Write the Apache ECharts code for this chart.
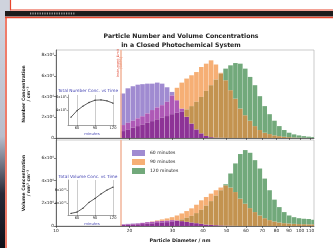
<!DOCTYPE html>
<html>
<head>
<meta charset="utf-8">
<script src="https://cdn.jsdelivr.net/npm/echarts@6/dist/echarts.min.js"></script>
<style>
html, body { margin: 0; padding: 0; background: #fff; }
#main { width: 333px; height: 248px; }
</style>
</head>
<body>
<div id="main"></div>
<script>
// bin centres (nm)
var diameters = [18.8, 19.7, 20.7, 21.6, 22.6, 23.7, 24.8, 26.0, 27.2, 28.5,
    29.9, 31.3, 32.7, 34.3, 35.9, 37.6, 39.4, 41.2, 43.2, 45.2,
    47.3, 49.5, 51.9, 54.3, 56.9, 59.6, 62.4, 65.3, 68.4, 71.6,
    75.0, 78.5, 82.2, 86.1, 90.2, 94.4, 98.9, 103.5, 108.4, 113.5];

// number concentration (x10^4)
var number60 = [4.3, 4.8, 5.0, 5.15, 5.2, 5.25, 5.25, 5.35, 5.25, 4.9,
    4.45, 3.65, 2.85, 2.05, 1.4, 0.83, 0.45, 0.2, 0.08, 0.03,
    0.02, 0.01, 0, 0, 0, 0, 0, 0, 0, 0,
    0, 0, 0, 0, 0, 0, 0, 0, 0, 0];
var number90 = [1.25, 1.47, 1.67, 1.9, 2.1, 2.37, 2.7, 2.95, 3.17, 3.5,
    4.1, 4.85, 5.35, 5.74, 6.06, 6.37, 6.86, 7.18, 7.5, 7.1,
    6.3, 5.58, 4.62, 3.8, 2.85, 2.2, 1.67, 1.15, 0.77, 0.51,
    0.38, 0.26, 0.18, 0.12, 0.08, 0.05, 0.03, 0.02, 0.01, 0.01];
var number120 = [0.67, 0.83, 1.0, 1.15, 1.31, 1.47, 1.63, 1.8, 1.96, 2.12,
    2.3, 2.44, 2.56, 2.76, 3.08, 3.5, 3.97, 4.55, 5.1, 5.64,
    6.22, 6.7, 7.02, 7.24, 7.18, 6.7, 5.9, 5.1, 4.04, 3.08,
    2.3, 1.67, 1.15, 0.77, 0.51, 0.35, 0.25, 0.18, 0.13, 0.1];

// volume concentration (x10^8)
var volume60 = [0.16, 0.19, 0.22, 0.25, 0.28, 0.34, 0.37, 0.43, 0.46, 0.49,
    0.52, 0.49, 0.43, 0.37, 0.31, 0.25, 0.19, 0.13, 0.1, 0.07,
    0.05, 0.03, 0.02, 0.01, 0, 0, 0, 0, 0, 0,
    0, 0, 0, 0, 0, 0, 0, 0, 0, 0];
var volume90 = [0.13, 0.16, 0.19, 0.22, 0.28, 0.34, 0.4, 0.49, 0.58, 0.67,
    0.78, 0.93, 1.11, 1.32, 1.56, 1.88, 2.27, 2.56, 2.86, 3.16,
    3.4, 3.6, 3.4, 3.0, 2.42, 1.97, 1.58, 1.23, 0.93, 0.69,
    0.52, 0.4, 0.31, 0.25, 0.22, 0.19, 0.17, 0.16, 0.15, 0.15];
var volume120 = [0.1, 0.11, 0.13, 0.15, 0.17, 0.2, 0.23, 0.27, 0.31, 0.34,
    0.37, 0.46, 0.58, 0.73, 0.9, 1.14, 1.44, 1.8, 2.2, 2.68,
    3.16, 3.69, 4.64, 5.53, 6.36, 6.71, 6.47, 5.82, 5.08, 4.19,
    3.16, 2.33, 1.67, 1.23, 0.93, 0.78, 0.69, 0.64, 0.62, 0.55];

var diameterTicks = [10, 20, 30, 40, 50, 60, 70, 80, 90, 100, 110];
var numberTicks = [0, 2, 4, 6, 8];
var volumeTicks = [0, 2, 4, 6];
var seriesNames = ['60 minutes', '90 minutes', '120 minutes'];

// insets: total concentration vs time
var insetTimes = [50, 60, 70, 80, 90, 100, 110, 120];
var insetTimeTicks = [60, 90, 120];
var numberTotal = [2.9, 3.9, 4.6, 5.15, 5.5, 5.55, 5.4, 5.05];
var volumeTotal = [2.4, 2.6, 3.2, 4.1, 4.7, 5.4, 6.0, 6.45];
var insetTicks = [4, 6];

var chart = echarts.init(document.getElementById('main'));

var FONT = 'DejaVu Sans';
var baseColors = ['#a08bd1', '#f6af75', '#72a97b'];
// colour of a stretch of bin covered by a given set of series
var mixColors = {
    '0': '#a08bd1', '1': '#f6af75', '2': '#72a97b',
    '01': '#ae59b6', '02': '#8b5aa0', '12': '#c39350', '012': '#8d3396'
};

var numberGroup = [number60, number90, number120];
var volumeGroup = [volume60, volume90, volume120];

function binEdge(i, side) {
    var d = diameters[i], n;
    if (side < 0) n = i > 0 ? diameters[i - 1] : d * d / diameters[i + 1];
    else n = i < diameters.length - 1 ? diameters[i + 1] : d * d / diameters[i - 1];
    return Math.sqrt(d * n);
}

// each series paints the piece of its bin between the next lower series and itself
function histRender(group, k) {
    return function (params, api) {
        var i = params.dataIndex;
        var v = group[k][i];
        var lower = 0, cover = '';
        for (var j = 0; j < group.length; j++) {
            var w = group[j][i];
            if (w < v || (w === v && j < k)) lower = Math.max(lower, w);
            else cover += j;
        }
        if (v <= lower) return null;
        var p0 = api.coord([binEdge(i, -1), lower]);
        var p1 = api.coord([binEdge(i, 1), v]);
        return {
            type: 'rect',
            shape: { x: p0[0] + 0.15, y: p1[1], width: p1[0] - p0[0] - 0.3, height: p0[1] - p1[1] },
            style: { fill: mixColors[cover] }
        };
    };
}

function histSeries(group, k, panel) {
    return {
        type: 'custom',
        name: seriesNames[k],
        xAxisIndex: panel * 2,
        yAxisIndex: panel,
        itemStyle: { color: baseColors[k] },
        renderItem: histRender(group, k),
        data: diameters.map(function (d, i) { return [d, group[k][i]]; }),
        encode: { x: 0, y: 1 },
        clip: true,
        silent: true
    };
}

function sciFmt(exp) {
    return function (v) { return v === 0 ? '0' : v + 'x10' + exp; };
}

var tickLine = { color: '#333', width: 0.6 };
var logTicks = diameterTicks.map(function (d) { return Math.log10(d); });

function mainY(grid, max, ticks, exp) {
    return {
        type: 'value', gridIndex: grid, min: 0, max: max,
        splitLine: { show: false },
        axisLine: { show: true, lineStyle: { color: '#333', width: 0.7 } },
        axisTick: { show: true, length: 2, customValues: ticks, lineStyle: tickLine },
        axisLabel: { customValues: ticks, fontSize: 4.3, margin: 2, color: '#222', fontFamily: FONT, formatter: sciFmt(exp) }
    };
}

function logX(grid) {
    return { type: 'log', logBase: 10, gridIndex: grid, min: 10, max: 114, show: false };
}

function labelX(grid, withLabels) {
    return {
        type: 'value', gridIndex: grid, min: 1, max: Math.log10(114), position: 'bottom',
        splitLine: { show: false },
        axisLine: { show: true, lineStyle: { color: '#333', width: 0.7 } },
        axisTick: { show: true, length: 2, customValues: logTicks, lineStyle: tickLine },
        axisLabel: {
            show: withLabels, customValues: logTicks, fontSize: 4.3, margin: 3, color: '#222', fontFamily: FONT,
            formatter: function (v) { return Math.round(Math.pow(10, v)); }
        }
    };
}

function insetX(grid) {
    return {
        type: 'value', gridIndex: grid, min: 45, max: 125,
        axisLine: { show: true, lineStyle: { color: '#444', width: 0.5 } },
        axisTick: { show: true, length: 1.5, customValues: insetTimeTicks, lineStyle: { color: '#444', width: 0.5 } },
        splitLine: { show: true, lineStyle: { color: '#999', width: 0.5 } },
        axisLabel: { customValues: insetTimeTicks, fontSize: 3.6, margin: 1.5, color: '#222', fontFamily: FONT },
        name: 'minutes', nameLocation: 'middle', nameGap: 7,
        nameTextStyle: { fontSize: 3.8, color: '#4646b4', fontFamily: FONT }
    };
}

function insetY(grid, min, max, exp) {
    return {
        type: 'value', gridIndex: grid, min: min, max: max,
        splitLine: { show: false },
        axisLine: { show: true, lineStyle: { color: '#444', width: 0.5 } },
        axisTick: { show: true, length: 1.5, customValues: insetTicks, lineStyle: { color: '#444', width: 0.5 } },
        axisLabel: { customValues: insetTicks, fontSize: 3.6, margin: 1.5, color: '#222', fontFamily: FONT, formatter: sciFmt(exp) }
    };
}

function insetLine(times, vals, grid) {
    return {
        type: 'line', xAxisIndex: grid + 2, yAxisIndex: grid,
        data: times.map(function (t, i) { return [t, vals[i]]; }),
        symbol: 'circle', symbolSize: 1.3,
        itemStyle: { color: '#333' },
        lineStyle: { color: '#333', width: 0.8 },
        silent: true
    };
}

function txt(x, y, text, font, fill, rot) {
    return {
        type: 'text', x: x, y: y, rotation: rot || 0, silent: true,
        style: { text: text, font: font, fill: fill, align: 'center', verticalAlign: 'middle',
                 textAlign: 'center', textVerticalAlign: 'middle' }
    };
}

var series = [];
for (var k = 0; k < 3; k++) series.push(histSeries(numberGroup, k, 0));
for (k = 0; k < 3; k++) series.push(histSeries(volumeGroup, k, 1));
// detection limit marker through both panels
series[0].markLine = { silent: true, symbol: 'none', label: { show: false }, lineStyle: { color: '#f2b49a', width: 1.5, type: 'solid' }, data: [{ xAxis: 18.5 }] };
series[3].markLine = { silent: true, symbol: 'none', label: { show: false }, lineStyle: { color: '#f2b49a', width: 1.5, type: 'solid' }, data: [{ xAxis: 18.5 }] };
series.push(insetLine(insetTimes, numberTotal, 2));
series.push(insetLine(insetTimes, volumeTotal, 3));

var option = {
    animation: false,
    backgroundColor: '#fff',
    grid: [
        { left: 56, top: 50, width: 258, height: 88, show: true, borderColor: '#aaa', borderWidth: 0.6 },
        { left: 56, top: 140, width: 258, height: 86, show: true, borderColor: '#aaa', borderWidth: 0.6 },
        { left: 68, top: 95, width: 48, height: 30 },
        { left: 68, top: 180, width: 48, height: 35 }
    ],
    xAxis: [logX(0), labelX(0, false), logX(1), labelX(1, true), insetX(2), insetX(3)],
    yAxis: [mainY(0, 8.5, numberTicks, '⁴'), mainY(1, 7.6, volumeTicks, '⁸'),
            insetY(2, 1.7, 6.3, '⁵'), insetY(3, 2.15, 7.55, '¹⁰')],
    legend: {
        data: seriesNames, orient: 'vertical', left: 127, top: 145,
        icon: 'rect', itemWidth: 13, itemHeight: 6, itemGap: 3,
        textStyle: { fontSize: 4.5, color: '#222', fontFamily: FONT }
    },
    series: series,
    graphic: [
        // slide edges
        { type: 'rect', shape: { x: 0, y: 0, width: 5, height: 248 }, silent: true, z: -10,
          style: { fill: new echarts.graphic.LinearGradient(0, 0, 0, 1, [
              { offset: 0, color: '#d3d7e1' }, { offset: 0.55, color: '#b9bdcb' },
              { offset: 0.78, color: '#2a2a38' }, { offset: 1, color: '#101018' }]) } },
        { type: 'rect', shape: { x: 0, y: 0, width: 11, height: 11 }, silent: true, style: { fill: '#cfd3dd' } },
        { type: 'line', shape: { x1: 10.5, y1: 0, x2: 10.5, y2: 10 }, silent: true, style: { stroke: '#e8452c', lineWidth: 1.2 } },
        { type: 'line', shape: { x1: 10, y1: 10, x2: 333, y2: 10 }, silent: true, style: { stroke: '#e8452c', lineWidth: 1.2 } },
        { type: 'rect', shape: { x: 5, y: 11, width: 328, height: 5.5 }, silent: true, style: { fill: '#1c1c1c' } },
        { type: 'line', shape: { x1: 30, y1: 13.5, x2: 75, y2: 13.5 }, silent: true, style: { stroke: '#9a9a9a', lineWidth: 2, lineDash: [1.2, 1.2] } },
        { type: 'line', shape: { x1: 5, y1: 17.5, x2: 333, y2: 17.5 }, silent: true, style: { stroke: '#e8452c', lineWidth: 1.4 } },
        { type: 'line', shape: { x1: 6, y1: 17, x2: 6, y2: 248 }, silent: true, style: { stroke: '#e8452c', lineWidth: 1.4 } },
        // titles
        txt(181, 36, 'Particle Number and Volume Concentrations', 'bold 6.2px "DejaVu Sans"', '#222'),
        txt(181, 45, 'in a Closed Photochemical System', 'bold 6.2px "DejaVu Sans"', '#222'),
        txt(180, 241, 'Particle Diameter / nm', 'bold 4.8px "DejaVu Sans"', '#222'),
        txt(26, 94, 'Number Concentration\n/ cm⁻³', 'bold 4.5px "DejaVu Sans"', '#222', Math.PI / 2),
        txt(26, 183, 'Volume Concentration\n/ nm³ cm⁻³', 'bold 4.5px "DejaVu Sans"', '#222', Math.PI / 2),
        txt(88, 91, 'Total Number Conc. vs Time', '4.3px "DejaVu Sans"', '#4646b4'),
        txt(88, 177, 'Total Volume Conc. vs Time', '4.3px "DejaVu Sans"', '#4646b4'),
        txt(120, 63, 'Instrument Limit\n(SMPS)', '3.4px "DejaVu Sans"', '#e0402a', Math.PI / 2)
    ]
};

chart.setOption(option);
</script>
</body>
</html>
